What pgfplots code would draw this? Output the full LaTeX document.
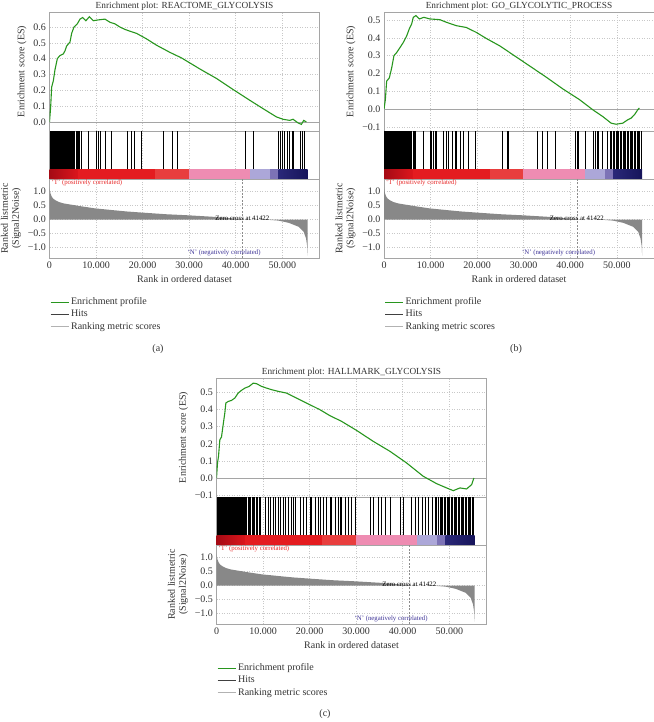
\documentclass[border=0pt]{standalone}
\usepackage{fontspec}
\setmainfont{Liberation Serif}
\usepackage{pgfplots}
\pgfplotsset{compat=1.18}
\definecolor{esgreen}{RGB}{40,150,30}
\definecolor{axgray}{RGB}{165,165,165}
\definecolor{gridgray}{RGB}{200,200,200}
\definecolor{rankfill}{RGB}{136,136,136}
\definecolor{txtgray}{RGB}{50,50,50}
\definecolor{tred}{RGB}{230,40,40}
\definecolor{nblue}{RGB}{60,50,150}
\definecolor{cbA}{RGB}{165,10,20}
\definecolor{cbB}{RGB}{220,22,28}
\definecolor{cbC}{RGB}{228,28,32}
\definecolor{cbD}{RGB}{232,62,62}
\definecolor{cbE}{RGB}{238,140,178}
\definecolor{cbF}{RGB}{172,167,216}
\definecolor{cbG}{RGB}{125,115,182}
\definecolor{cbH}{RGB}{42,40,120}
\definecolor{cbI}{RGB}{22,20,90}
\pgfplotsset{
 gsea/.style={
  scale only axis, width=270pt, xmin=0, xmax=58000, anchor=north west,
  scaled x ticks=false, scaled y ticks=false,
  axis line style={draw=axgray, line width=0.9pt},
  major tick length=0pt,
  xmajorgrids, ymajorgrids,
  grid style={gridgray, dash pattern=on 1pt off 1.5pt, line width=0.5pt},
  xtick={0,10000,20000,30000,40000,50000},
  ticklabel style={font=\fontsize{10}{11}\selectfont, text=txtgray},
  label style={font=\fontsize{10}{11}\selectfont, text=txtgray},
  every axis title shift=0pt,
  title style={font=\fontsize{9.3}{10}\selectfont, text=txtgray, at={(0.5,1)}, anchor=south, inner sep=1.5pt},
 },
 esax/.style={gsea, height=119pt, xticklabels=\empty, ylabel={Enrichment score (ES)}},
 hitax/.style={gsea, height=48pt, ymin=-0.263, ymax=1, ytick=\empty, ymajorgrids=false, xticklabels=\empty},
 rankax/.style={gsea, height=79pt, ymin=-1.385, ymax=1.457,
  ytick={-1,-0.5,0,0.5,1}, yticklabels={−1.0,−0.5,0.0,0.5,1.0},
  xticklabels={0,10.000,20.000,30.000,40.000,50.000},
  xlabel={Rank in ordered dataset},
  ylabel={Ranked listmetric\\(Signal2Noise)}, ylabel style={align=center},
  legend style={at={(0,-0.48)}, anchor=north west, draw=none, fill=none,
   font=\fontsize{10}{11}\selectfont, text=txtgray, cells={anchor=west},
   row sep=0pt, inner sep=0pt, nodes={inner sep=1.6pt, text height=7pt, text depth=2pt}},
  legend image code/.code={\draw[##1] (0pt,0pt) -- (18pt,0pt);},
 },
 cbar/.style={draw=none, forget plot},
 hitline/.style={ycomb, black, line width=0.55pt, mark=none, forget plot},
}
\newcommand{\gseabar}{%
\addplot[cbar, left color=cbA, right color=cbB] coordinates {(0,-0.263) (6200,-0.263) (6200,0) (0,0)} -- cycle;
\addplot[cbar, fill=cbC] coordinates {(6200,-0.263) (22700,-0.263) (22700,0) (6200,0)} -- cycle;
\addplot[cbar, fill=cbD] coordinates {(22700,-0.263) (29870,-0.263) (29870,0) (22700,0)} -- cycle;
\addplot[cbar, fill=cbE] coordinates {(29870,-0.263) (43120,-0.263) (43120,0) (29870,0)} -- cycle;
\addplot[cbar, fill=cbF] coordinates {(43120,-0.263) (47420,-0.263) (47420,0) (43120,0)} -- cycle;
\addplot[cbar, fill=cbG] coordinates {(47420,-0.263) (49220,-0.263) (49220,0) (47420,0)} -- cycle;
\addplot[cbar, left color=cbH, right color=cbI] coordinates {(49220,-0.263) (55450,-0.263) (55450,0) (49220,0)} -- cycle;
}
\newcommand{\rankcontent}{%
\addplot[fill=rankfill, draw=none, forget plot] coordinates {(0,0) (0,1.15) (80,1.05) (200,0.95) (450,0.83) (800,0.75) (1200,0.70) (2000,0.63) (3000,0.58) (4800,0.53) (7000,0.47) (9800,0.40) (13400,0.34) (16500,0.29) (19800,0.25) (25000,0.19) (29900,0.15) (34900,0.10) (38000,0.06) (40500,0.03) (41422,0) (44000,-0.004) (47000,-0.012) (49200,-0.04) (51400,-0.12) (53500,-0.26) (54600,-0.44) (55100,-0.68) (55350,-0.95) (55450,-1.3) (55450,0)} -- cycle;
\addplot[black!45, dash pattern=on 2pt off 1.5pt, line width=0.5pt, forget plot] coordinates {(41422,-1.385) (41422,1.457)};
\node[font=\fontsize{6.8}{7}\selectfont, inner sep=0.5pt] at (axis cs:41422,0.04) {Zero cross at 41422};
\node[font=\fontsize{6.8}{7}\selectfont, text=tred, anchor=north west, inner sep=1pt] at (axis cs:200,1.457) {`T' (positively correlated)};
\node[font=\fontsize{6.8}{7}\selectfont, text=nblue, inner sep=0.5pt] at (axis cs:37500,-1.19) {`N' (negatively correlated)};
\addlegendimage{esgreen, line width=1.2pt}
\addlegendentry{Enrichment profile}
\addlegendimage{black!75, line width=1.8pt}
\addlegendentry{Hits}
\addlegendimage{black!30, line width=1.1pt}
\addlegendentry{Ranking metric scores}
}
\begin{document}
\begin{tikzpicture}
\useasboundingbox (0pt,0pt) rectangle (653pt,-722pt);
% ================= (a) =================
\begin{axis}[esax, at={(49.5pt,-12pt)}, ymin=-0.057, ymax=0.695,
 ytick={0,0.1,0.2,0.3,0.4,0.5,0.6}, yticklabels={0.0,0.1,0.2,0.3,0.4,0.5,0.6},
 title={Enrichment plot: REACTOME\_GLYCOLYSIS}]
\addplot[axgray, line width=0.8pt] coordinates {(0,0) (58000,0)};
\addplot[esgreen, line width=1.1pt] table {
x y
0 0
250 0.095
460 0.22
820 0.26
1180 0.33
1680 0.40
2250 0.42
2970 0.43
3330 0.45
3680 0.48
4400 0.505
4760 0.56
5260 0.60
5970 0.62
6550 0.65
7120 0.66
7830 0.64
8550 0.665
9410 0.64
10480 0.645
11910 0.65
13000 0.63
14060 0.62
15130 0.60
16200 0.585
17630 0.57
18700 0.56
20850 0.525
23000 0.485
25860 0.44
28350 0.405
32300 0.335
35870 0.275
39450 0.205
43030 0.137
45890 0.084
48750 0.032
50180 0.017
51610 0.01
52320 0.017
53400 -0.006
54110 -0.015
54610 0.01
55180 0
};
\end{axis}
\begin{axis}[hitax, at={(49.5pt,-131pt)}]
\gseabar
\addplot[hitline] coordinates {(100,1) (250,1) (400,1) (550,1) (700,1) (850,1) (1000,1) (1200,1) (1400,1) (1600,1) (1800,1) (2050,1) (2250,1) (2500,1) (2700,1) (2900,1) (3150,1) (3350,1) (3600,1) (3800,1) (4000,1) (4250,1) (4500,1) (4700,1) (4900,1) (5150,1) (5400,1) (5650,1) (5900,1) (6200,1) (6500,1) (6800,1) (8350,1) (10150,1) (10500,1) (10860,1) (11950,1) (13370,1) (16600,1) (17670,1) (18250,1) (19800,1) (24480,1) (26280,1) (27350,1) (42050,1) (43830,1) (49220,1) (49580,1) (50080,1) (50510,1) (51010,1) (51590,1) (52090,1) (52440,1) (53870,1) (54240,1) (54810,1)};
\end{axis}
\begin{axis}[rankax, at={(49.5pt,-179pt)}]
\rankcontent
\end{axis}
\node[font=\fontsize{10}{11}\selectfont, text=txtgray] at (158pt,-349pt) {(a)};
% ================= (b) =================
\begin{axis}[esax, at={(384pt,-12pt)}, ymin=-0.123, ymax=0.545,
 ytick={-0.1,0,0.1,0.2,0.3,0.4,0.5}, yticklabels={−0.1,0.0,0.1,0.2,0.3,0.4,0.5},
 title={Enrichment plot: GO\_GLYCOLYTIC\_PROCESS}]
\addplot[axgray, line width=0.8pt] coordinates {(0,0) (58000,0)};
\addplot[esgreen, line width=1.1pt] table {
x y
0 0
290 0.053
570 0.157
1140 0.175
1640 0.23
2140 0.30
2710 0.317
3430 0.345
4140 0.374
4860 0.41
5430 0.45
5930 0.477
6290 0.515
6860 0.525
7570 0.506
8570 0.515
9860 0.506
12000 0.502
13430 0.487
15570 0.468
17710 0.458
19860 0.43
22000 0.396
24860 0.355
27360 0.311
31290 0.242
34860 0.179
38430 0.113
42000 0.053
44860 -0.004
47000 -0.042
48790 -0.079
49860 -0.085
51290 -0.079
52360 -0.06
53070 -0.051
53790 -0.032
54500 -0.004
54860 0.006
};
\end{axis}
\begin{axis}[hitax, at={(384pt,-131pt)}]
\gseabar
\addplot[hitline] coordinates {(100,1) (250,1) (400,1) (550,1) (700,1) (850,1) (1000,1) (1150,1) (1300,1) (1500,1) (1700,1) (1900,1) (2100,1) (2300,1) (2500,1) (2700,1) (2900,1) (3100,1) (3300,1) (3500,1) (3700,1) (3900,1) (4100,1) (4300,1) (4500,1) (4700,1) (4950,1) (5200,1) (5450,1) (5700,1) (5950,1) (6200,1) (6500,1) (6800,1) (8400,1) (9900,1) (10250,1) (10610,1) (10970,1) (11330,1) (12760,1) (13480,1) (13840,1) (14560,1) (15270,1) (15630,1) (16350,1) (17060,1) (18140,1) (19570,1) (25310,1) (26380,1) (26740,1) (32840,1) (33910,1) (34990,1) (36780,1) (41080,1) (41440,1) (41800,1) (43240,1) (45030,1) (45390,1) (45740,1) (46100,1) (46820,1) (47890,1) (48600,1) (48900,1) (49200,1) (49500,1) (49800,1) (50100,1) (50400,1) (50700,1) (51000,1) (51300,1) (51600,1) (51900,1) (52200,1) (52500,1) (52800,1) (53100,1) (53400,1) (53700,1) (54000,1) (54300,1) (54600,1) (54900,1) (55200,1)};
\end{axis}
\begin{axis}[rankax, at={(384pt,-179pt)}]
\rankcontent
\end{axis}
\node[font=\fontsize{10}{11}\selectfont, text=txtgray] at (516pt,-349pt) {(b)};
% ================= (c) =================
\begin{axis}[esax, at={(216.5pt,-378pt)}, ymin=-0.111, ymax=0.584,
 ytick={-0.1,0,0.1,0.2,0.3,0.4,0.5}, yticklabels={−0.1,0.0,0.1,0.2,0.3,0.4,0.5},
 title={Enrichment plot: HALLMARK\_GLYCOLYSIS}]
\addplot[axgray, line width=0.8pt] coordinates {(0,0) (58000,0)};
\addplot[esgreen, line width=1.1pt] table {
x y
0 0
215 0.088
430 0.126
720 0.224
1070 0.239
1430 0.311
1790 0.38
2010 0.438
2510 0.447
3220 0.453
3940 0.467
4660 0.496
5370 0.512
6090 0.525
7020 0.535
7880 0.554
8600 0.551
9670 0.535
10750 0.525
11820 0.516
13250 0.506
15040 0.496
16120 0.481
17910 0.457
20060 0.428
22210 0.399
24360 0.364
26860 0.331
30090 0.278
33670 0.214
37250 0.156
40830 0.088
44410 0.01
47280 -0.033
49430 -0.058
50860 -0.074
52290 -0.058
53720 -0.064
54800 -0.039
55300 0
};
\end{axis}
\begin{axis}[hitax, at={(216.5pt,-497pt)}]
\gseabar
\addplot[hitline] coordinates {(80,1) (200,1) (350,1) (500,1) (650,1) (800,1) (950,1) (1100,1) (1250,1) (1400,1) (1550,1) (1700,1) (1850,1) (2000,1) (2200,1) (2400,1) (2600,1) (2800,1) (3000,1) (3200,1) (3400,1) (3600,1) (3800,1) (4000,1) (4200,1) (4400,1) (4600,1) (4800,1) (5000,1) (5250,1) (5500,1) (5750,1) (6000,1) (6250,1) (6500,1) (6750,1) (7000,1) (7300,1) (7600,1) (7900,1) (8200,1) (8500,1) (8800,1) (9100,1) (9320,1) (10400,1) (11110,1) (11470,1) (12190,1) (12550,1) (13260,1) (13620,1) (14340,1) (14700,1) (15420,1) (16130,1) (16490,1) (16850,1) (17920,1) (18640,1) (19360,1) (20080,1) (20430,1) (21150,1) (21870,1) (22230,1) (22940,1) (23660,1) (24380,1) (24740,1) (25450,1) (26170,1) (26530,1) (26890,1) (27600,1) (28320,1) (29040,1) (29760,1) (32980,1) (33700,1) (34770,1) (35490,1) (36210,1) (37280,1) (39430,1) (40150,1) (41940,1) (42660,1) (43380,1) (44100,1) (44810,1) (45530,1) (46250,1) (46960,1) (47300,1) (47650,1) (48000,1) (48300,1) (48600,1) (48900,1) (49200,1) (49500,1) (49800,1) (50100,1) (50400,1) (50700,1) (51000,1) (51300,1) (51600,1) (51900,1) (52200,1) (52500,1) (52800,1) (53100,1) (53400,1) (53700,1) (54000,1) (54300,1) (54600,1) (54900,1) (55200,1)};
\end{axis}
\begin{axis}[rankax, at={(216.5pt,-545pt)}]
\rankcontent
\end{axis}
\node[font=\fontsize{10}{11}\selectfont, text=txtgray] at (325pt,-714pt) {(c)};
\end{tikzpicture}
\end{document}
